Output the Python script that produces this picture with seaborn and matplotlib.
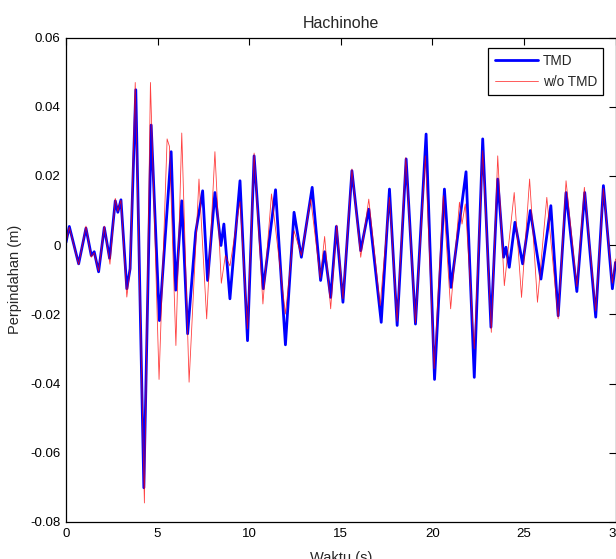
import matplotlib
matplotlib.use("Agg")
import matplotlib.pyplot as plt
import seaborn as sns
import pandas as pd

t_tmd = [0.0, 0.18, 0.69, 1.09, 1.38, 1.54, 1.78, 2.09, 2.38, 2.69, 2.83, 3.00, 3.32, 3.50,
         3.81, 4.25, 4.65, 5.10, 5.74, 5.99, 6.32, 6.64, 7.08, 7.46, 7.73, 8.13, 8.46, 8.62,
         8.95, 9.50, 9.91, 10.27, 10.77, 11.44, 11.98, 12.45, 12.85, 13.44, 13.90, 14.12,
         14.45, 14.76, 15.12, 15.61, 16.09, 16.53, 17.21, 17.66, 18.08, 18.57, 19.08, 19.66,
         20.12, 20.66, 21.02, 21.84, 22.29, 22.75, 23.20, 23.57, 23.89, 24.02, 24.20, 24.51,
         24.93, 25.35, 25.93, 26.47, 26.87, 27.30, 27.89, 28.32, 28.92, 29.34, 29.83, 30.0]
y_tmd = [0.0008, 0.0054, -0.0054, 0.0049, -0.0030, -0.0019, -0.0077, 0.0051, -0.0038, 0.0128,
         0.0095, 0.0131, -0.0126, -0.0068, 0.0449, -0.0701, 0.0347, -0.0218, 0.0270, -0.0130,
         0.0128, -0.0256, 0.0037, 0.0157, -0.0102, 0.0152, -0.0001, 0.0061, -0.0155, 0.0186,
         -0.0276, 0.0258, -0.0126, 0.0160, -0.0288, 0.0095, -0.0035, 0.0167, -0.0102, -0.0019,
         -0.0151, 0.0054, -0.0165, 0.0215, -0.0016, 0.0104, -0.0223, 0.0162, -0.0232, 0.0249,
         -0.0228, 0.0321, -0.0388, 0.0162, -0.0122, 0.0212, -0.0382, 0.0307, -0.0237, 0.0191,
         -0.0035, -0.0006, -0.0064, 0.0066, -0.0054, 0.0100, -0.0098, 0.0114, -0.0204, 0.0152,
         -0.0134, 0.0152, -0.0208, 0.0172, -0.0126, -0.0050]

# Without TMD
t_wo = [0.0, 0.18, 0.69, 1.09, 1.38, 1.54, 1.78, 2.09, 2.40, 2.69, 2.83, 3.00, 3.32, 3.50,
        3.78, 4.28, 4.61, 5.08, 5.52, 5.65, 6.00, 6.32, 6.72, 7.26, 7.68, 8.13, 8.48, 8.70,
        8.95, 9.50, 9.91, 10.27, 10.75, 11.22, 11.98, 12.45, 12.85, 13.36, 13.88, 14.12,
        14.45, 14.78, 15.12, 15.61, 16.09, 16.53, 17.15, 17.66, 18.08, 18.55, 19.08, 19.62,
        20.10, 20.60, 21.00, 21.48, 21.62, 21.80, 22.29, 22.75, 23.22, 23.57, 23.93, 24.47,
        24.87, 25.31, 25.74, 26.25, 26.87, 27.30, 27.89, 28.30, 28.92, 29.34, 29.83, 30.0]
y_wo = [0.0008, 0.0052, -0.0056, 0.0055, -0.0035, -0.0022, -0.0075, 0.0055, -0.0055, 0.0135,
        0.0098, 0.0130, -0.0150, -0.0070, 0.0470, -0.0745, 0.0470, -0.0388, 0.0307, 0.0285,
        -0.0290, 0.0324, -0.0396, 0.0191, -0.0213, 0.0270, -0.0110, -0.0030, -0.0060, 0.0126,
        -0.0242, 0.0266, -0.0170, 0.0148, -0.0199, 0.0042, -0.0030, 0.0133, -0.0095, 0.0025,
        -0.0184, 0.0058, -0.0155, 0.0220, -0.0035, 0.0133, -0.0175, 0.0138, -0.0220, 0.0253,
        -0.0225, 0.0258, -0.0357, 0.0143, -0.0184, 0.0124, 0.0061, 0.0119, -0.0300, 0.0273,
        -0.0252, 0.0258, -0.0117, 0.0152, -0.0151, 0.0191, -0.0165, 0.0138, -0.0213, 0.0186,
        -0.0120, 0.0167, -0.0190, 0.0164, -0.0110, -0.0040]

x_ticks = [0, 5, 10, 15, 20, 25, 30]
x_tick_labels = ["0", "5", "10", "15", "20", "25", "30"]
y_ticks = [-0.08, -0.06, -0.04, -0.02, 0, 0.02, 0.04, 0.06]
y_tick_labels = ["-0.08", "-0.06", "-0.04", "-0.02", "0", "0.02", "0.04", "0.06"]

sns.set_style("white")
plt.rcParams['font.family'] = ['Liberation Sans', 'DejaVu Sans']

W, H = 616, 559
fig = plt.figure(figsize=(W / 100, H / 100), dpi=100)
ax = fig.add_axes([66 / W, 1 - 522 / H, 549.5 / W, 484.5 / H])

df_tmd = pd.DataFrame({"t": t_tmd, "y": y_tmd})
df_wo = pd.DataFrame({"t": t_wo, "y": y_wo})

sns.lineplot(data=df_tmd, x="t", y="y", ax=ax, color=(0, 0, 1), linewidth=2.0,
             label="TMD", sort=False, solid_joinstyle="round")
sns.lineplot(data=df_wo, x="t", y="y", ax=ax, color=(1, 0, 0), linewidth=0.6, alpha=0.75,
             label="w/o TMD", sort=False, solid_joinstyle="round")

ax.set_xlim(0, 30)
ax.set_ylim(-0.08, 0.06)
ax.set_xticks(x_ticks)
ax.set_xticklabels(x_tick_labels)
ax.set_yticks(y_ticks)
ax.set_yticklabels(y_tick_labels)
ax.tick_params(direction="in", length=5, width=0.8, top=True, right=True,
               labelsize=9.5, colors="black", pad=4)
for s in ax.spines.values():
    s.set_visible(True)
    s.set_color("black")
    s.set_linewidth(0.9)

ax.set_title("Hachinohe", fontsize=11.5, pad=6.5)
ax.set_ylabel("Perpindahan (m)", fontsize=10.5, labelpad=6)
ax.set_xlabel("Waktu (s)", fontsize=10.5, labelpad=8.5)

leg = ax.legend(loc="upper right", bbox_to_anchor=(603.3 / W, 1 - 47.7 / H),
                bbox_transform=fig.transFigure, borderaxespad=0, fancybox=False,
                edgecolor="black", framealpha=1, fontsize=9.8, handlelength=3.2,
                handletextpad=0.35, labelspacing=0.5, borderpad=0.45)
leg.get_frame().set_linewidth(0.9)

fig.savefig("out.png", dpi=100)
